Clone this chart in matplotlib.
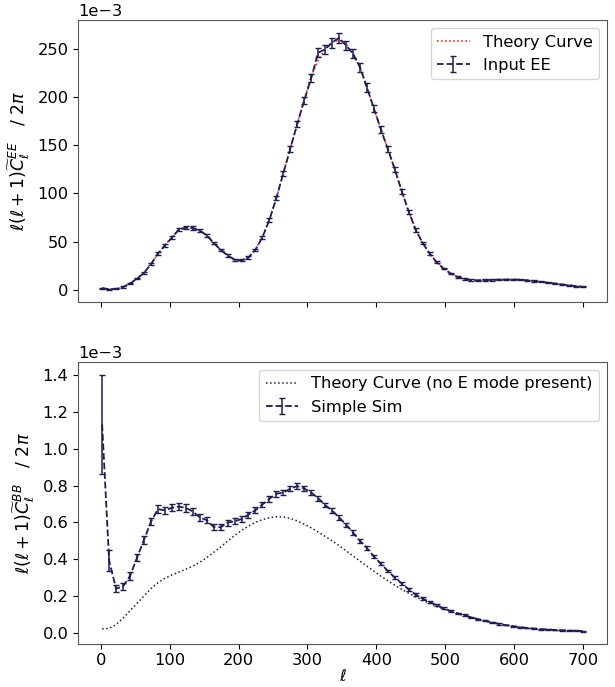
import numpy as np
import matplotlib
matplotlib.use("Agg")
import matplotlib.pyplot as plt

# multipole bin positions
ell = np.linspace(2, 700, 70)

# EE (units of 1e-3)
ee_sim = [1.7, 0.6, 0.8, 2.8, 6.5, 11.5, 17.5, 26.5, 37.5, 46,
          54, 62.5, 64.5, 64, 61.5, 56.5, 48.5, 41.5, 35.5, 31.3,
          30.4, 33.5, 41.5, 54.5, 72.5, 95, 121, 146.5, 172, 196.5,
          219.5, 246, 249.5, 256.5, 261.5, 253.5, 245, 231, 210, 188,
          166.5, 146, 125, 102, 81, 62, 48.5, 37.5, 28.5, 22,
          17, 13.3, 11, 10, 9.8, 10, 10.2, 10.5, 10.6, 10.6,
          10.4, 9.8, 9.1, 8.2, 7.3, 6.4, 5.5, 4.6, 3.8, 3.0]
ee_err = [0.5, 0.5, 0.5, 0.6, 0.6, 0.7, 0.8, 1.0, 1.2, 1.3,
          1.5, 1.6, 1.7, 1.7, 1.6, 1.5, 1.4, 1.2, 1.1, 1.1,
          1.0, 1.1, 1.2, 1.5, 1.8, 2.2, 2.7, 3.1, 3.6, 4.0,
          4.4, 4.9, 5.0, 5.1, 5.2, 5.1, 4.9, 4.7, 4.3, 3.9,
          3.5, 3.1, 2.8, 2.3, 2.0, 1.6, 1.4, 1.2, 1.0, 0.9,
          0.8, 0.7, 0.7, 0.7, 0.7, 0.7, 0.7, 0.7, 0.7, 0.7,
          0.7, 0.7, 0.6, 0.6, 0.6, 0.6, 0.6, 0.6, 0.5, 0.5]
ee_theory = [1.7, 0.7, 0.9, 2.8, 6.4, 11.4, 17.6, 26.4, 37.2, 46.2,
             54.5, 61.8, 64.4, 64.0, 61.2, 56.2, 48.8, 41.6, 35.6, 31.5,
             30.6, 33.6, 41.8, 54.8, 72.8, 95.2, 121, 146.5, 172, 197,
             222, 238, 250, 257, 259, 255, 245, 231, 210, 188,
             166.5, 146, 125, 102, 81, 62.5, 48.5, 37.5, 28.6, 22,
             17, 13.4, 11, 10, 9.8, 10, 10.2, 10.5, 10.6, 10.6,
             10.4, 9.8, 9.1, 8.2, 7.3, 6.4, 5.5, 4.6, 3.8, 3.0]

# BB (units of 1e-3)
bb_sim = [1.132, 0.393, 0.240, 0.252, 0.309, 0.408, 0.505, 0.603, 0.672, 0.665,
          0.679, 0.686, 0.678, 0.660, 0.627, 0.612, 0.575, 0.573, 0.598, 0.606,
          0.618, 0.642, 0.666, 0.697, 0.728, 0.755, 0.762, 0.783, 0.797, 0.784,
          0.762, 0.731, 0.694, 0.664, 0.627, 0.588, 0.545, 0.500, 0.460, 0.415,
          0.375, 0.336, 0.300, 0.268, 0.236, 0.208, 0.186, 0.168, 0.150, 0.133,
          0.119, 0.106, 0.096, 0.084, 0.074, 0.065, 0.057, 0.048, 0.042, 0.036,
          0.031, 0.027, 0.023, 0.020, 0.018, 0.016, 0.014, 0.012, 0.011, 0.009]
bb_err = [0.27, 0.055, 0.02, 0.02, 0.02, 0.02, 0.02, 0.02, 0.02, 0.02,
          0.02, 0.02, 0.02, 0.018, 0.018, 0.017, 0.016, 0.016, 0.016, 0.016,
          0.016, 0.016, 0.016, 0.016, 0.015, 0.015, 0.015, 0.015, 0.015, 0.014,
          0.014, 0.013, 0.013, 0.012, 0.012, 0.011, 0.011, 0.010, 0.010, 0.009,
          0.009, 0.008, 0.008, 0.007, 0.007, 0.006, 0.006, 0.005, 0.005, 0.005,
          0.004, 0.004, 0.004, 0.003, 0.003, 0.003, 0.003, 0.003, 0.002, 0.002,
          0.002, 0.002, 0.002, 0.002, 0.002, 0.002, 0.002, 0.002, 0.002, 0.002]
bb_theory = [0.022, 0.024, 0.045, 0.080, 0.120, 0.160, 0.200, 0.240, 0.272, 0.296,
             0.314, 0.330, 0.345, 0.362, 0.383, 0.408, 0.437, 0.466, 0.498, 0.528,
             0.556, 0.580, 0.600, 0.615, 0.625, 0.630, 0.629, 0.622, 0.608, 0.590,
             0.570, 0.548, 0.524, 0.500, 0.474, 0.446, 0.418, 0.390, 0.362, 0.335,
             0.308, 0.283, 0.259, 0.236, 0.215, 0.195, 0.177, 0.160, 0.144, 0.129,
             0.116, 0.104, 0.093, 0.082, 0.072, 0.063, 0.055, 0.047, 0.041, 0.035,
             0.030, 0.026, 0.022, 0.019, 0.017, 0.015, 0.013, 0.011, 0.010, 0.008]

scale = 1e-3
navy = '#1d1d55'
fs = 11.7

fig, (ax1, ax2) = plt.subplots(2, 1, figsize=(6.15, 6.87), dpi=100, sharex=True)
fig.subplots_adjust(left=0.127, right=0.987, top=0.971, bottom=0.062, hspace=0.21)

ax1.plot(ell, np.array(ee_theory) * scale, ':', color='red', lw=1.1, label='Theory Curve')
ax1.errorbar(ell, np.array(ee_sim) * scale, yerr=np.array(ee_err) * scale, fmt='--',
             color=navy, lw=1.3, elinewidth=1.1, capsize=2.2, label='Input EE')
ax1.set_ylabel(r'$\ell(\ell+1)\widetilde{C}_\ell^{EE}$   / $2\pi$', fontsize=12.5, labelpad=4)
ax1.ticklabel_format(axis='y', style='sci', scilimits=(-3, -3))
ax1.legend(fontsize=fs, loc='upper right')

ax2.plot(ell, np.array(bb_theory) * scale, ':', color=navy, lw=1.1,
         label='Theory Curve (no E mode present)')
ax2.errorbar(ell, np.array(bb_sim) * scale, yerr=np.array(bb_err) * scale, fmt='--',
             color=navy, lw=1.3, elinewidth=1.1, capsize=2.2, label='Simple Sim')
ax2.set_ylabel(r'$\ell(\ell+1)\widetilde{C}_\ell^{BB}$   / $2\pi$', fontsize=12.5, labelpad=4)
ax2.set_xlabel(r'$\ell$', fontsize=fs, labelpad=0)
ax2.ticklabel_format(axis='y', style='sci', scilimits=(-3, -3))
ax2.legend(fontsize=fs, loc='upper right')

for ax in (ax1, ax2):
    ax.tick_params(labelsize=fs)
    ax.tick_params(axis='x', pad=3)
    ax.yaxis.get_offset_text().set_fontsize(fs)
    for s in ax.spines.values():
        s.set_color('#555555')

fig.savefig('out.png', dpi=100)
